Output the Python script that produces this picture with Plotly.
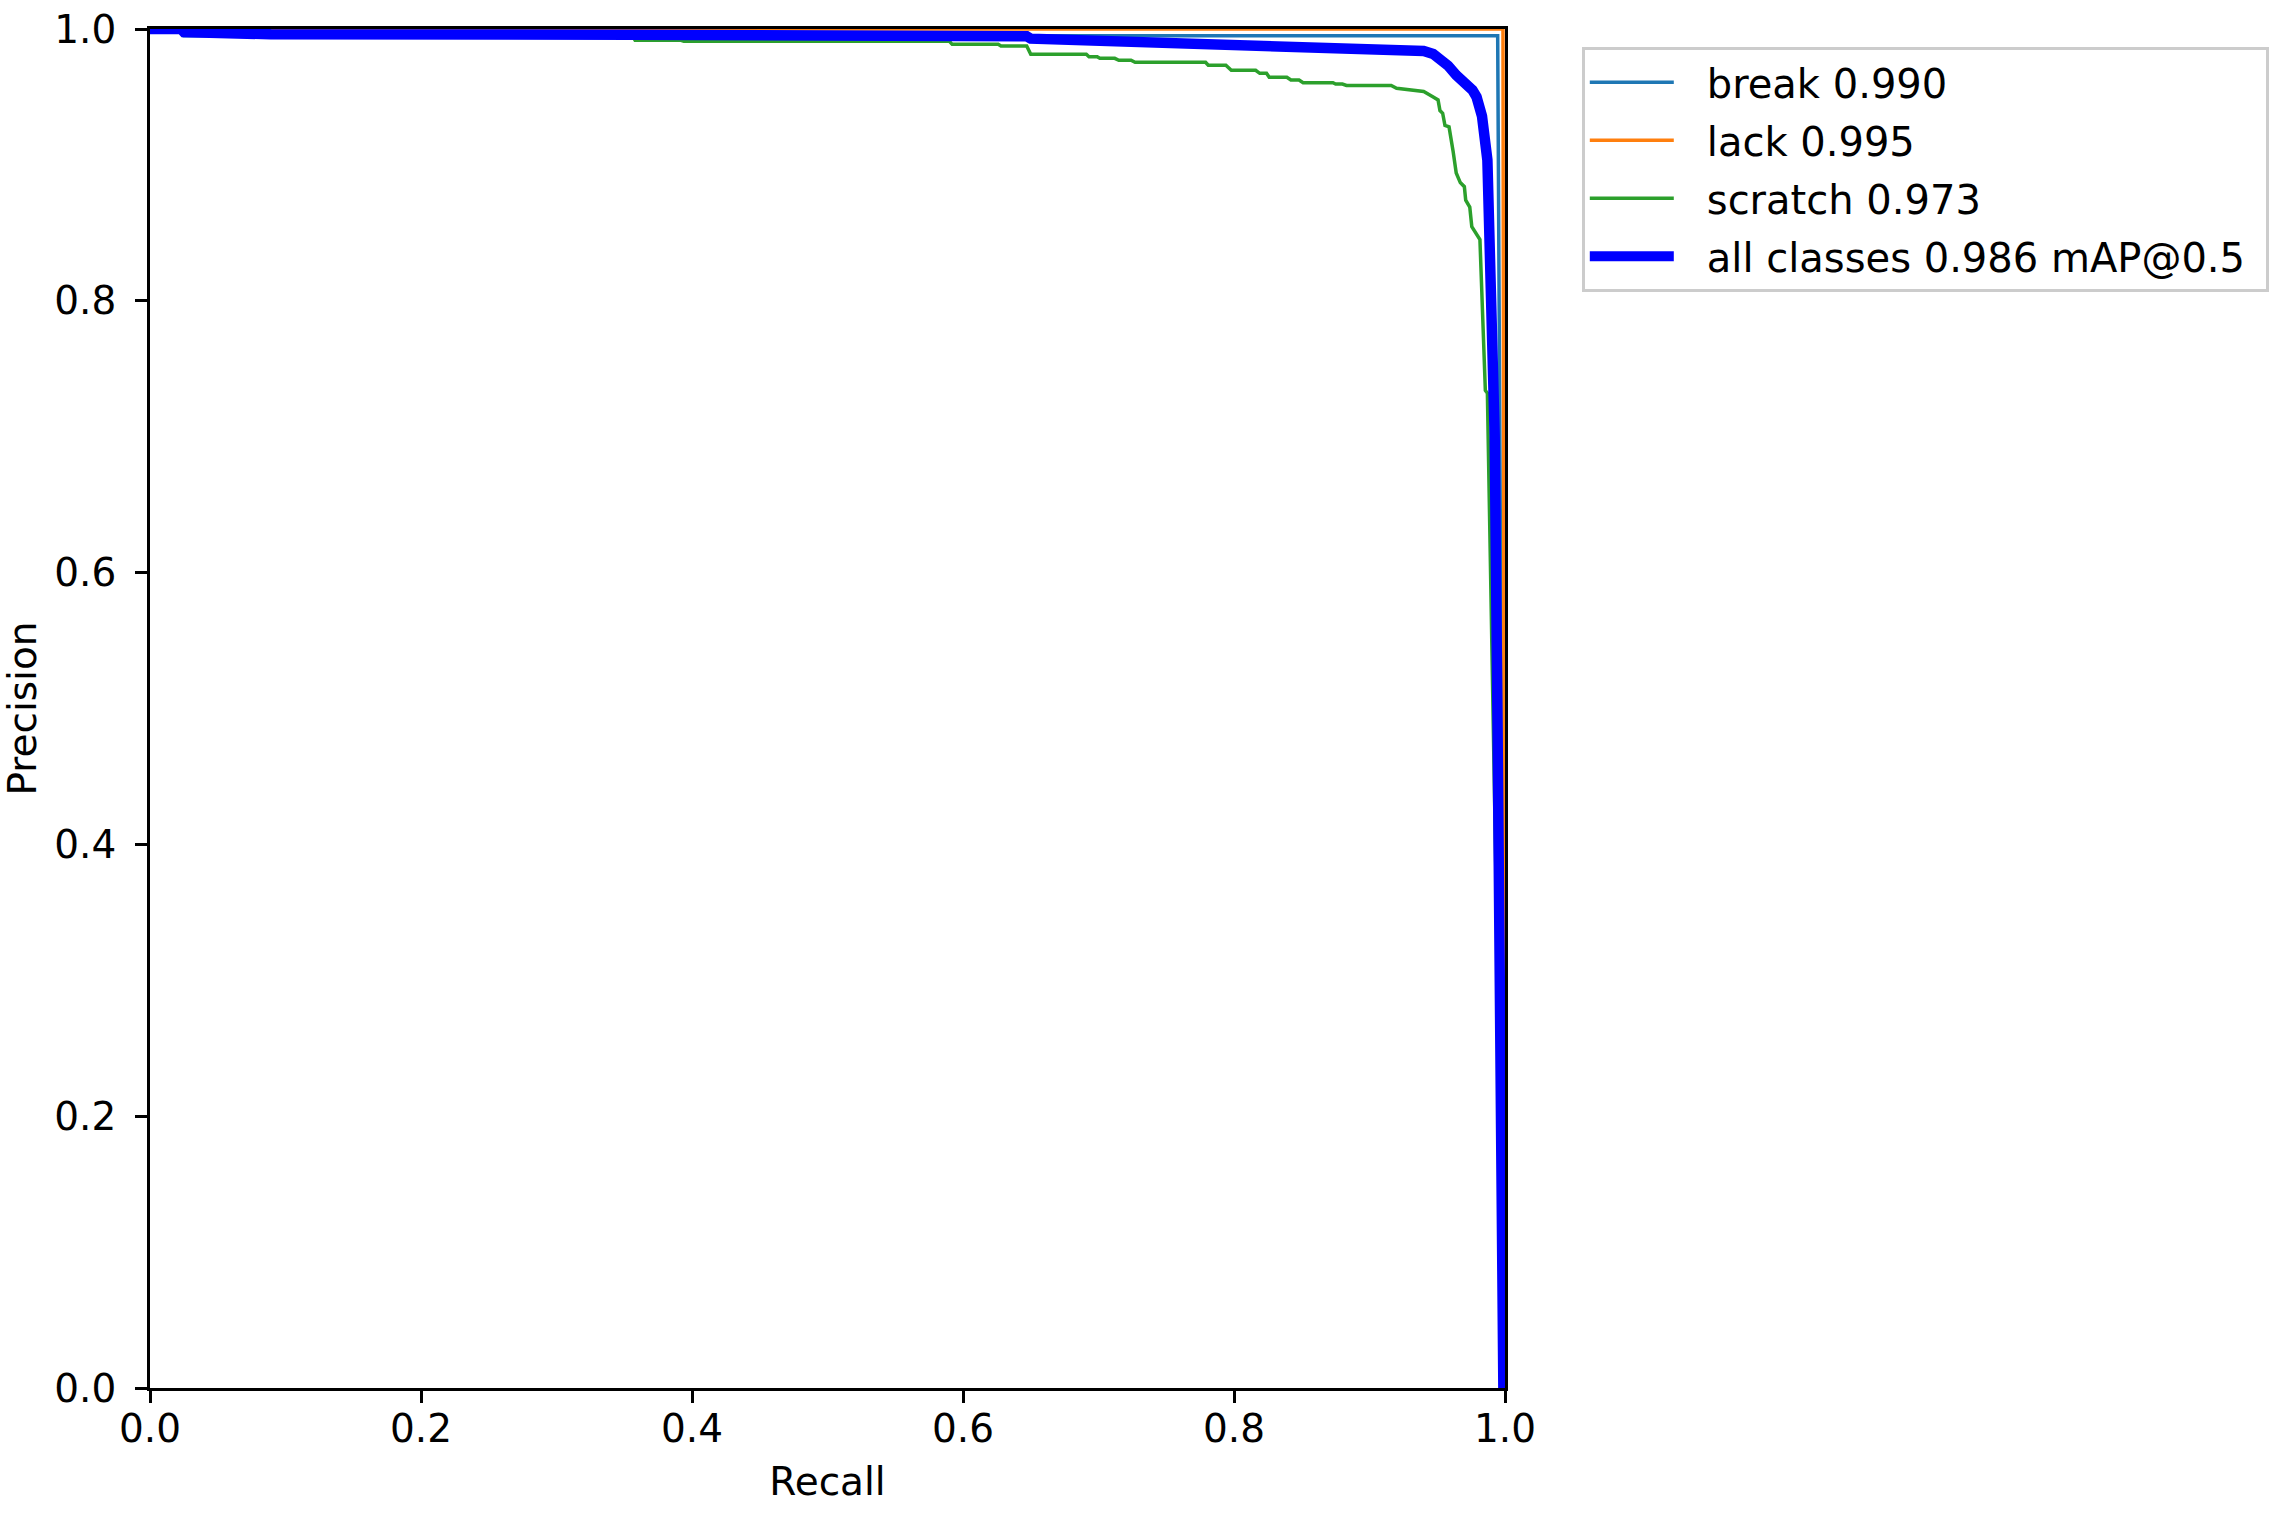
import plotly.graph_objects as go

# ---- data ----
break_recall = [0.0, 0.023, 0.025, 0.9946, 1.0]
break_precision = [1.0, 1.0, 0.995, 0.995, 0.0]

lack_recall = [0.0, 0.9985, 1.0]
lack_precision = [1.0, 1.0, 0.0]

scratch_recall = [0.0, 0.088, 0.090, 0.356, 0.358, 0.392, 0.394, 0.590, 0.592, 0.626,
                  0.628, 0.647, 0.650, 0.691, 0.693, 0.699, 0.701, 0.712, 0.715, 0.724,
                  0.727, 0.779, 0.781, 0.794, 0.798, 0.816, 0.819, 0.824, 0.826, 0.839,
                  0.842, 0.848, 0.851, 0.873, 0.875, 0.880, 0.883, 0.916, 0.920, 0.940,
                  0.947, 0.9506, 0.952, 0.954, 0.9557, 0.9587, 0.9617, 0.964, 0.967, 0.970,
                  0.971, 0.974, 0.9755, 0.9786, 0.9815, 0.9855, 0.987, 1.0]
scratch_precision = [1.0, 1.0, 0.995, 0.995, 0.9917, 0.9917, 0.9909, 0.9909, 0.9887, 0.9887,
                     0.9875, 0.9875, 0.9814, 0.9814, 0.9796, 0.9796, 0.9784, 0.9784, 0.977, 0.977,
                     0.9755, 0.9755, 0.9733, 0.9733, 0.9696, 0.9696, 0.9674, 0.9674, 0.9645, 0.9645,
                     0.9625, 0.9625, 0.9605, 0.9605, 0.9595, 0.9595, 0.9585, 0.9585, 0.9564, 0.954,
                     0.950, 0.9478, 0.940, 0.938, 0.929, 0.928, 0.910, 0.894, 0.887, 0.884,
                     0.874, 0.869, 0.8545, 0.850, 0.845, 0.734, 0.732, 0.0]

all_recall = [0.0, 0.023, 0.025, 0.087, 0.089, 0.357, 0.590, 0.593, 0.647, 0.650,
              0.738, 0.800, 0.850, 0.900, 0.930, 0.940, 0.947, 0.953, 0.958, 0.964,
              0.969, 0.976, 0.979, 0.983, 0.987, 0.990, 0.9924, 0.9945, 0.9967, 0.9988]
all_precision = [1.0, 1.0, 0.9978, 0.9978, 0.9961, 0.9958, 0.9954, 0.9947, 0.9947, 0.9929,
                 0.9904, 0.9884, 0.9858, 0.9852, 0.9846, 0.9838, 0.9817, 0.978, 0.973, 0.966,
                 0.962, 0.955, 0.950, 0.936, 0.9036, 0.807, 0.700, 0.486, 0.272, 0.0]

names = ["break 0.990", "lack 0.995", "scratch 0.973", "all classes 0.986 mAP@0.5"]
colors = ["#1f77b4", "#ff7f0e", "#2ca02c", "#0000ff"]
widths = [3.5, 3.5, 3.5, 10.5]

series = [(break_recall, break_precision), (lack_recall, lack_precision),
          (scratch_recall, scratch_precision), (all_recall, all_precision)]

W, H = 2282, 1516
L, R, T, B = 150, 1505, 29, 1388
FONT = "DejaVu Sans"
FS = 39

fig = go.Figure()
for i, ((x, y), n, c, w) in enumerate(zip(series, names, colors, widths)):
    label = "\u2002\u2009" + n + ("\u2009\u2009" if i == len(names) - 1 else "")
    fig.add_trace(go.Scatter(x=x, y=y, mode="lines", name=label,
                             legendgroup=f"g{i}", line=dict(color=c, width=w)))

axis_common = dict(range=[0, 1], showgrid=False, zeroline=False, showline=True,
                   mirror=True, linecolor="black", linewidth=2.8, ticks="outside",
                   ticklen=12, tickwidth=2.8, tickcolor="black", automargin=False,
                   tickfont=dict(family=FONT, size=FS, color="black"),
                   tickvals=[0, 0.2, 0.4, 0.6, 0.8, 1.0],
                   ticktext=["0.0", "0.2", "0.4", "0.6", "0.8", "1.0"])

fig.update_layout(
    width=W, height=H,
    margin=dict(l=0, r=0, t=0, b=0),
    paper_bgcolor="white", plot_bgcolor="white",
    font=dict(family=FONT, size=FS, color="black"),
    xaxis=dict(domain=[L / W, R / W], ticklabelstandoff=-8,
               title=dict(text="Recall", font=dict(family=FONT, size=FS), standoff=18),
               **axis_common),
    yaxis=dict(domain=[(H - B) / H, (H - T) / H], ticklabelstandoff=11,
               title=dict(text="Precision", font=dict(family=FONT, size=FS), standoff=8),
               **axis_common),
    legend=dict(x=1582 / W, y=(H - 47) / H, xanchor="left", yanchor="top",
                bgcolor="white", bordercolor="#cccccc", borderwidth=2.8,
                font=dict(family=FONT, size=40, color="black"),
                tracegroupgap=3, itemwidth=84),
    showlegend=True,
)

fig.write_html("out.html", config={"displayModeBar": False},
               post_script="document.body.style.margin='0px';")
